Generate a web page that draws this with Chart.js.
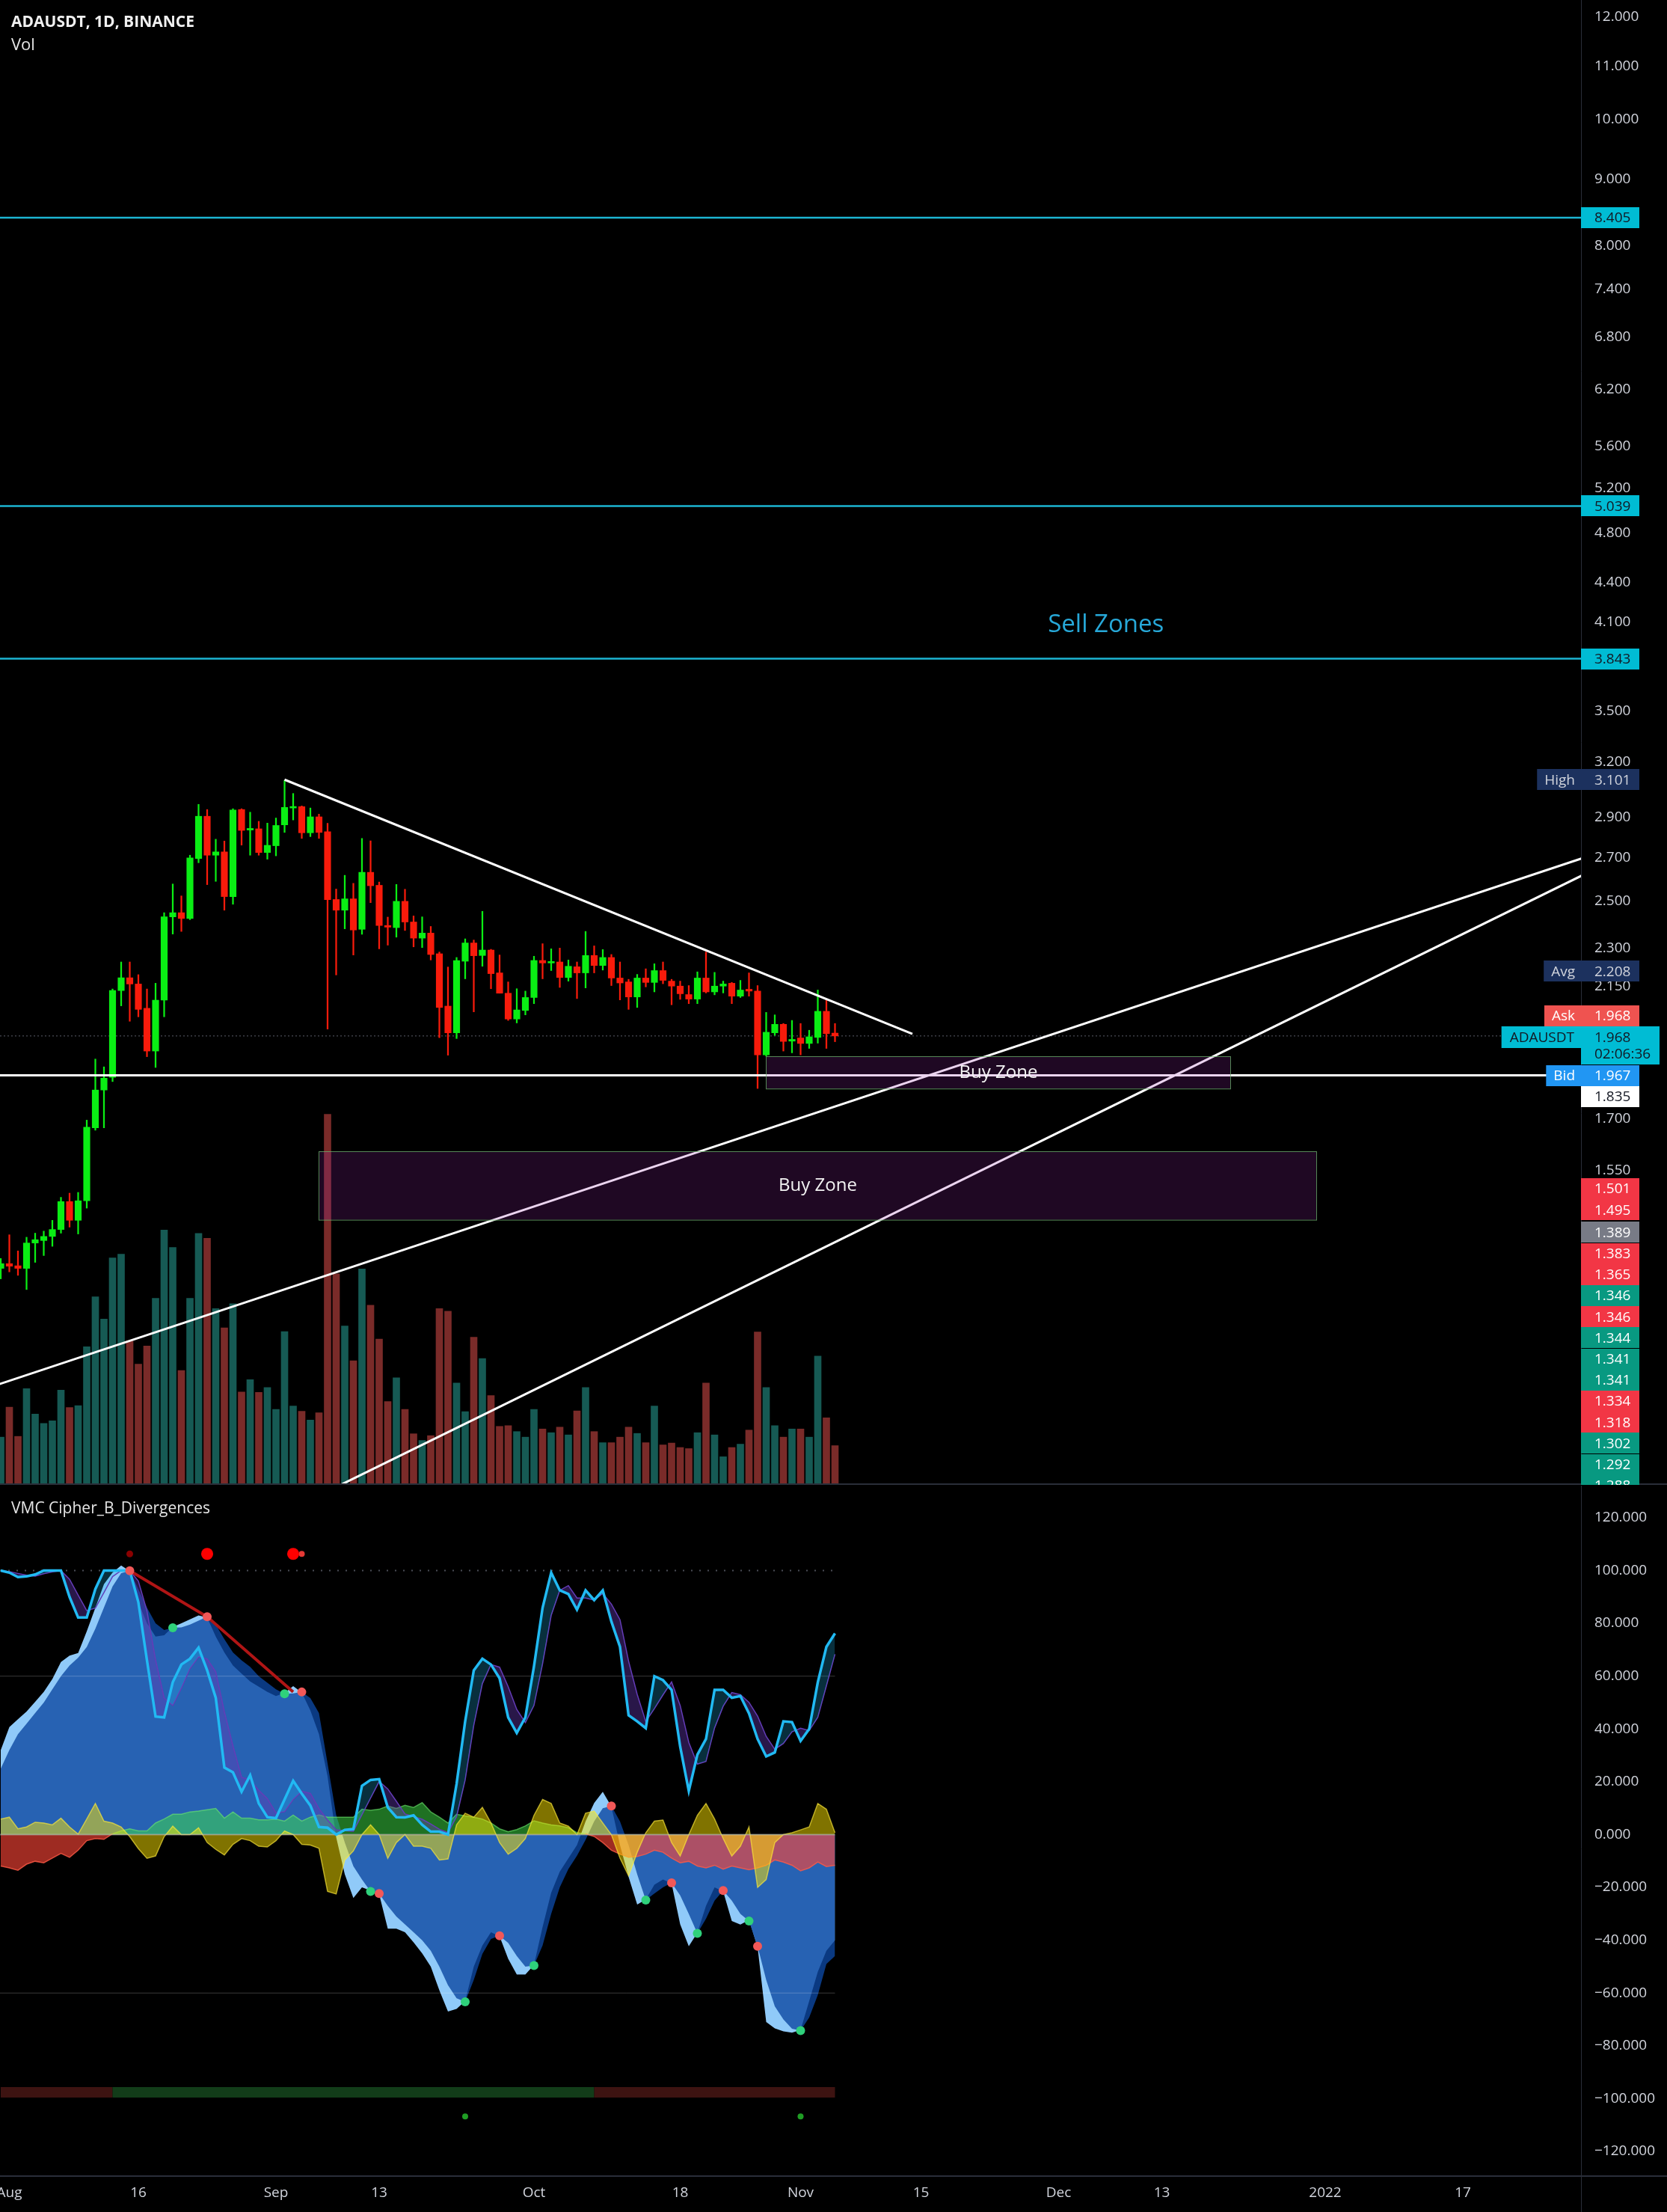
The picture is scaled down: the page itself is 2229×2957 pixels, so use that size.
<!DOCTYPE html>
<html>
<head>
<meta charset="utf-8">
<script src="https://cdn.jsdelivr.net/npm/chart.js@4.4.1/dist/chart.umd.min.js"></script>
<style>
  html, body { margin:0; padding:0; background:#000; }
  body { width:2229px; height:2957px; position:relative; overflow:hidden; }
  canvas { position:absolute; left:0; }
  #price { top:0; }
  #osc { top:1986px; }
  .lbl { position:absolute; left:15px; font-family:"Open Sans", sans-serif; line-height:1; white-space:nowrap; }
</style>
</head>
<body>
<canvas id="price" width="2229" height="1985"></canvas>
<canvas id="osc" width="2229" height="971"></canvas>
<div class="lbl" style="top:18px;font-size:21px;font-weight:700;color:#f0f0f0">ADAUSDT, 1D, BINANCE</div>
<div class="lbl" style="top:47px;font-size:22px;color:#e6e6e6">Vol</div>
<div class="lbl" style="top:2005px;font-size:21px;color:#e6e6e6">VMC Cipher_B_Divergences</div>
<script>
// ---------------- DATA (daily candles, Jul 31 2021 .. Nov 5 2021) ----------------
const open = [1.303,1.314,1.309,1.303,1.363,1.369,1.379,1.396,1.467,1.419,1.469,1.672,1.788,1.829,2.133,2.182,2.158,2.067,1.916,2.097,2.431,2.449,2.424,2.696,2.906,2.712,2.728,2.520,2.941,2.836,2.842,2.725,2.758,2.862,2.949,2.956,2.822,2.903,2.827,2.507,2.460,2.510,2.378,2.631,2.571,2.394,2.385,2.499,2.409,2.341,2.362,2.277,2.075,1.979,2.247,2.321,2.270,2.292,2.201,2.123,2.028,2.059,2.107,2.250,2.240,2.244,2.183,2.225,2.201,2.270,2.230,2.262,2.181,2.166,2.109,2.181,2.164,2.210,2.169,2.150,2.118,2.101,2.181,2.128,2.150,2.161,2.112,2.138,2.131,1.903,1.979,2.009,1.950,1.961,1.942,1.963,2.056,1.978];
const high = [1.326,1.383,1.344,1.377,1.387,1.392,1.419,1.478,1.489,1.491,1.695,1.889,1.863,2.139,2.244,2.244,2.194,2.139,2.161,2.449,2.577,2.523,2.712,2.968,2.941,2.790,2.781,2.945,2.945,2.927,2.880,2.871,2.897,3.097,3.026,2.960,2.949,2.917,2.870,2.554,2.617,2.580,2.794,2.782,2.586,2.430,2.575,2.553,2.435,2.431,2.390,2.284,2.224,2.262,2.338,2.333,2.455,2.295,2.272,2.166,2.140,2.131,2.267,2.318,2.297,2.300,2.252,2.244,2.369,2.309,2.294,2.274,2.244,2.176,2.195,2.217,2.237,2.244,2.176,2.169,2.152,2.205,2.284,2.203,2.169,2.164,2.172,2.201,2.152,2.052,2.043,2.012,2.023,2.012,1.988,2.135,2.100,2.012];
const low = [1.279,1.295,1.287,1.255,1.317,1.333,1.355,1.387,1.402,1.385,1.450,1.665,1.672,1.815,2.076,2.020,2.036,1.897,1.861,2.036,2.358,2.369,2.419,2.676,2.574,2.589,2.460,2.486,2.761,2.712,2.712,2.693,2.709,2.824,2.887,2.794,2.803,2.794,1.992,2.193,2.380,2.272,2.357,2.493,2.297,2.312,2.345,2.373,2.305,2.302,2.252,1.962,1.902,1.959,2.178,2.054,2.227,2.140,2.123,2.023,2.014,2.043,2.084,2.178,2.210,2.145,2.169,2.103,2.143,2.201,2.212,2.152,2.098,2.063,2.070,2.147,2.128,2.159,2.080,2.100,2.084,2.084,2.124,2.117,2.124,2.084,2.107,2.112,1.793,1.899,1.970,1.916,1.910,1.903,1.925,1.943,1.925,1.948];
const close = [1.314,1.308,1.303,1.363,1.371,1.379,1.396,1.467,1.419,1.469,1.674,1.788,1.826,2.133,2.182,2.158,2.063,1.916,2.097,2.431,2.449,2.424,2.699,2.906,2.712,2.728,2.520,2.938,2.834,2.844,2.725,2.760,2.859,2.952,2.956,2.822,2.903,2.824,2.506,2.460,2.510,2.375,2.631,2.569,2.394,2.387,2.499,2.409,2.341,2.362,2.274,2.070,1.979,2.250,2.321,2.269,2.292,2.198,2.123,2.028,2.061,2.107,2.250,2.240,2.244,2.183,2.227,2.201,2.270,2.230,2.262,2.181,2.162,2.109,2.181,2.164,2.210,2.172,2.150,2.121,2.101,2.181,2.128,2.150,2.158,2.112,2.135,2.131,1.903,1.981,2.009,1.949,1.956,1.942,1.965,2.056,1.976,1.968];
// volume, millions ADA
const volume = [129,210,131,260,191,166,173,256,209,214,373,508,448,613,623,388,326,375,504,688,641,309,504,679,666,476,424,489,251,284,250,263,204,414,213,199,175,195,1001,570,429,335,583,485,394,225,289,204,138,120,133,476,469,275,198,399,341,241,158,160,144,129,204,151,141,156,135,200,263,144,114,114,129,156,139,114,213,108,113,101,98,141,275,135,76,101,110,148,413,263,160,129,151,151,129,348,181,106];

// ---------------- VMC Cipher B values ----------------
const wt1 = [32,40.7,43.7,46.6,50.3,54,58.9,65.4,67.8,68.8,77,85.9,94.8,99.2,101.9,99.8,88,80,75,75.5,78.6,80,81.5,83,82.2,75,69,64,61,58,56,54,52.5,53.6,56.2,53.8,47,38,22,-1,-15,-24,-20,-21.2,-22.6,-35.6,-35.6,-37,-40.8,-45,-50,-59,-67,-66,-63,-50,-42,-37,-38.5,-47,-53,-53,-49.4,-35,-22,-14,-9,-4,5,12,16.2,10.6,-4,-16,-26.5,-24.6,-19,-17,-18.5,-34,-42.3,-37.2,-27,-20,-21.5,-32.7,-34.1,-32.4,-42.6,-71,-73.4,-74.5,-75,-74,-63,-52,-44,-40];
const wt2 = [25,32,38,42,46,50,55,60,64,67,71,78,86,94,99,99.9,93,86,80,77.5,78.3,78.5,79.5,81,82.5,79.5,74,69,66,63.5,60,57.5,55,53.3,53.5,54,51.7,46,27,7.4,-3,-12,-17,-21.5,-22.3,-27,-31,-34,-37,-40,-44,-50,-57,-62,-63.3,-55,-45.2,-39.5,-38.3,-41,-46,-50,-49.6,-42,-30,-20,-13,-8,-2,5,10,10.8,5,-4,-15,-24.8,-22.3,-20,-18.3,-23,-30,-37.4,-31.9,-25,-21.2,-25,-30,-32.7,-42.3,-55,-65,-70,-73.5,-74.2,-69.3,-60.8,-49,-46];
const vwap = [5.9,6.6,2.2,2.9,4.7,4.4,3.7,6.2,2.9,0.2,5.9,11.8,5.1,4.4,2.9,-0.8,-5.3,-9,-8.1,-0.8,3.2,0,0,2.6,-3,-5.6,-7.7,-3.7,-1.5,-2.3,-4.4,-4.7,-2.3,1.4,0,-3.7,-4,-5.2,-21.5,-22.5,-9.6,-6.2,0,3.7,0,-9,-3,0,-4.4,-4.4,-5.2,-9.6,-9.2,3.7,8.1,6.6,10.3,4.4,-3,-7.4,-5.2,-1.5,7.3,13.3,11.8,4.4,3.2,0,8.1,8.9,4.4,0,-8.9,-15.6,-6.7,0.7,5.1,5.5,-3,-8.1,0,7.3,11.8,5.9,-1.5,-8.1,-4.4,2.9,-20,-17,-3,0,0.7,1.8,2.9,11.8,9.6,0.7];
const mfi = [-11.9,-12.6,-13.5,-11.2,-10.1,-10.7,-8.9,-7.1,-8.6,-5.9,-2.3,-1.5,-1.8,0.3,1.4,2.2,1.4,1.4,4.4,5.9,7.7,7.7,8.6,8.9,9.4,9.9,6.2,8.6,6.2,6.2,5.6,5.6,5.9,5.1,7.4,5.1,6.6,7.4,6.6,6.6,6.6,6.6,9.6,9.2,9.6,10.8,9.9,11.1,10.3,12.1,8.6,6.6,4.4,7.7,7.1,6.6,5.9,4.4,2.2,1.1,1.9,3.3,5.2,4.4,3.7,3.3,2.6,0.7,0.3,-0.7,-3,-5.9,-7.4,-8.6,-8.3,-7.4,-5.9,-6.7,-8.9,-10.7,-10.1,-11.9,-12.6,-11.6,-13.1,-11.9,-12.6,-13.3,-12.6,-11.6,-9.6,-10.4,-11.6,-13.7,-12.6,-10.4,-12.1,-11.6];
const stochK = [100,99.2,97.5,97.8,98.5,100,100,100,90,82.2,82.2,93,100,100,100,100,88,66,44.7,44.4,57.7,64.4,66.6,70.8,62.2,51.8,25.4,23.6,16.2,22.5,11.8,6.6,6.2,13.3,20.4,15.5,11,2.9,2.6,0,1.8,2.1,18.5,20.7,21,10.3,6.6,6.5,7.3,3.7,1.1,1.1,0,19.2,42.9,62.2,66.6,64.4,59.2,44.4,38.5,44.4,63.7,85.9,99.2,92.5,91.1,85.2,92.5,88.8,92.5,80.7,71.1,45.2,42.9,40.3,60,58.5,54.8,33.3,16.5,30.3,36.2,54.8,54.8,51.8,52.5,45.9,36.2,29.6,31.1,42.9,42.6,35.5,40,57.7,71.1,76.2];
const stochD = [100,99.6,98.9,98.2,97.9,98.8,99.5,100,96.7,90.7,84.8,85.8,91.7,97.7,100,100,96,84.7,66.2,51.7,48.9,55.5,62.9,67.3,66.5,61.6,46.5,33.6,21.7,20.8,16.8,13.6,8.2,8.7,13.3,16.4,15.6,9.8,5.5,1.8,1.5,1.3,7.5,13.8,20.1,17.3,12.6,7.8,6.8,5.8,4,2,0.7,6.8,20.7,41.4,57.2,64.4,63.4,56,47.4,42.4,48.9,64.7,83,92.5,94.3,89.6,89.6,88.8,91.3,87.3,81.4,65.7,53.1,42.8,47.7,52.9,57.8,48.9,34.9,26.7,27.7,40.4,48.6,53.8,53,50.1,44.9,37.2,32.3,34.5,38.9,40.3,39.4,44.4,56.3,68.3];
const bullCrossDays = [19,32,42,53,61,74,80,86,92];
const bullCrossVals = [78.3,53.3,-21.5,-63.3,-49.6,-24.8,-37.4,-32.7,-74.2];
const bearCrossDays = [14,23,34,43,57,70,77,83,87];
const bearCrossVals = [99.9,82.5,54.0,-22.3,-38.3,10.8,-18.3,-21.2,-42.3];
const divLineDays = [14,23,33];
const divLineVals = [99.9,82.5,54];
const sellCircleDays = [23,33];
const weakSellDays = [14];
const tailSellDays = [34];
const SELL_CIRCLE_LEVEL = 106.3;
const buyDotDays = [53,92];
const BUY_DOT_LEVEL = -106.7;
const MFI_BAND_LEVEL = -97.6;

// ---------------- Drawings / levels ----------------
const sellZoneLevels = [8.405, 5.039, 3.843];
const supportLevel = 1.835;
const lastPrice = 1.968;
const trendDownDays = [32, 105],  trendDownPrices = [3.101, 1.975];
const trendUpADays  = [-2, 183],  trendUpAPrices  = [1.0566, 2.699];
const trendUpBDays  = [38, 183],  trendUpBPrices  = [0.884, 2.619];
const zoneStartDays = [88, 36], zoneEndDays = [142, 152];
const zoneTops = [1.8975, 1.6037], zoneBottoms = [1.7917, 1.4201];
const zoneLabels = ['Buy Zone', 'Buy Zone'];
const sellText = 'Sell Zones', sellTextDay = 127.5, sellTextPrice = 4.08;
const statNames = ['High', 'Avg'], statValues = [3.101, 2.208];
const symbol = 'ADAUSDT', countdown = '02:06:36';
const askValue = 1.968, bidValue = 1.967;
const bookLevels = [1.501,1.495,1.389,1.383,1.365,1.346,1.346,1.344,1.341,1.341,1.334,1.318,1.302,1.292,1.288];
const bookSide   = ['s','s','n','s','s','b','s','b','b','b','s','s','b','b','b'];

// ---------------- Axes ----------------
const priceTicks = [12,11,10,9,8,7.4,6.8,6.2,5.6,5.2,4.8,4.4,4.1,3.5,3.2,2.9,2.7,2.5,2.3,2.15,1.7,1.55];
const oscTicks = [-120,-100,-80,-60,-40,-20,0,20,40,60,80,100,120];
const xTickDays = [0,15,31,43,61,78,92,106,122,134,153,169];
const xTickLabels = ['Aug','16','Sep','13','Oct','18','Nov','15','Dec','13','2022','17'];

const X_MIN = -1.087, X_MAX = 182.74;
const P_MIN = 0.8874, P_MAX = 12.366;
const V_MAX = 4010;
const O_MIN = -129.04, O_MAX = 132.15;
const AXIS_W = 115;

// ---------------- helpers ----------------
Chart.defaults.font.family = '"Open Sans", sans-serif';
Chart.defaults.color = '#d1d4dc';
const dayIdx = open.map((_, i) => i - 1);
const pts = arr => arr.map((v, i) => ({x: dayIdx[i], y: v}));
const xy = (xs, ys) => xs.map((x, i) => ({x, y: Array.isArray(ys) ? ys[i] : ys}));
const up = close.map((c, i) => c >= open[i]);
const noPad = s => { s.paddingLeft = 0; s.paddingRight = 0; s.paddingTop = 0; s.paddingBottom = 0; };
const GREEN = '#0aee14', RED = '#f81b0b';
const TAG_H = 28, TAG_FONT = '19px "Open Sans"';
const line = (data, color, width, order, extra) => Object.assign({type:'line', data, borderColor:color, borderWidth:width, pointRadius:0, fill:false, tension:0, order}, extra || {});

function tagRect(ctx, l, r, yc, h, bg) { ctx.fillStyle = bg; ctx.fillRect(l, Math.round(yc - h / 2), r - l, h); }
function tagText(ctx, s, x, y, color) { ctx.font = TAG_FONT; ctx.fillStyle = color; ctx.textAlign = 'left'; ctx.textBaseline = 'middle'; ctx.fillText(s, x, y + 1); }

// ---------------- price chart ----------------
const zonesPlugin = {
  id: 'zones',
  afterDatasetsDraw(chart) {
    const {ctx, chartArea: a, scales: {x, y}} = chart;
    ctx.save();
    ctx.beginPath(); ctx.rect(a.left, a.top, a.width, a.height); ctx.clip();
    zoneStartDays.forEach((d0, i) => {
      const x0 = x.getPixelForValue(d0), x1 = x.getPixelForValue(zoneEndDays[i]);
      const y0 = y.getPixelForValue(zoneTops[i]), y1 = y.getPixelForValue(zoneBottoms[i]);
      ctx.fillStyle = 'rgba(156,39,176,0.2)';
      ctx.fillRect(x0, y0, x1 - x0, y1 - y0);
      ctx.strokeStyle = 'rgba(110,180,110,0.75)'; ctx.lineWidth = 1;
      ctx.strokeRect(Math.round(x0) + 0.5, Math.round(y0) + 0.5, x1 - x0, y1 - y0);
      ctx.font = '24px "Open Sans"'; ctx.fillStyle = '#f2f2f2'; ctx.textAlign = 'center'; ctx.textBaseline = 'middle';
      ctx.fillText(zoneLabels[i], (x0 + x1) / 2, (y0 + y1) / 2);
    });
    ctx.font = '33px "Open Sans"'; ctx.fillStyle = '#27a8d8'; ctx.textAlign = 'center'; ctx.textBaseline = 'middle';
    ctx.fillText(sellText, x.getPixelForValue(sellTextDay), y.getPixelForValue(sellTextPrice));
    ctx.restore();
  }
};

const priceLabelsPlugin = {
  id: 'priceLabels',
  afterDraw(chart) {
    const {ctx, chartArea: a, scales: {y}} = chart;
    const AX = a.right, R = AX + 78, TX = AX + 18;
    ctx.save();
    ctx.strokeStyle = '#2a2e39'; ctx.lineWidth = 1;
    ctx.beginPath(); ctx.moveTo(AX + 0.5, 0); ctx.lineTo(AX + 0.5, chart.height); ctx.stroke();
    ctx.lineWidth = 2;
    ctx.beginPath(); ctx.moveTo(0, chart.height - 1); ctx.lineTo(chart.width, chart.height - 1); ctx.stroke();
    ctx.font = TAG_FONT;
    sellZoneLevels.forEach(v => {
      const yc = y.getPixelForValue(v);
      tagRect(ctx, AX, R, yc, TAG_H, '#00bcd4');
      tagText(ctx, v.toFixed(3), TX, yc, '#131722');
    });
    statNames.forEach((n, i) => {
      const yc = y.getPixelForValue(statValues[i]);
      ctx.font = TAG_FONT;
      const L = AX - ctx.measureText(n).width - 18;
      tagRect(ctx, L, R, yc, TAG_H, '#1c315e');
      tagText(ctx, n, L + 10, yc, '#d1d4dc');
      tagText(ctx, statValues[i].toFixed(3), TX, yc, '#d1d4dc');
    });
    const top = Math.round(y.getPixelForValue(lastPrice)) - 13;
    ctx.font = TAG_FONT;
    const Ls = AX - ctx.measureText(symbol).width - 20;
    ctx.fillStyle = '#00bcd4';
    ctx.fillRect(Ls, top, AX - Ls, 29);
    ctx.fillRect(AX, top, 105, 51);
    tagText(ctx, symbol, Ls + 11, top + 14.5, '#131722');
    tagText(ctx, lastPrice.toFixed(3), TX, top + 14.5, '#131722');
    tagText(ctx, countdown, TX, top + 36.5, '#131722');
    const askC = Math.min(y.getPixelForValue(askValue), top - TAG_H / 2);
    ctx.font = TAG_FONT;
    let L = AX - ctx.measureText('Ask').width - 18;
    tagRect(ctx, L, R, askC, TAG_H, '#ef5350');
    tagText(ctx, 'Ask', L + 10, askC, '#ffffff');
    tagText(ctx, askValue.toFixed(3), TX, askC, '#ffffff');
    const bidC = Math.max(y.getPixelForValue(bidValue), top + 52 + TAG_H / 2);
    ctx.font = TAG_FONT;
    L = AX - ctx.measureText('Bid').width - 18;
    tagRect(ctx, L, R, bidC, TAG_H, '#2196f3');
    tagText(ctx, 'Bid', L + 10, bidC, '#ffffff');
    tagText(ctx, bidValue.toFixed(3), TX, bidC, '#ffffff');
    const supC = Math.max(y.getPixelForValue(supportLevel), bidC + TAG_H);
    tagRect(ctx, AX, R, supC, TAG_H, '#ffffff');
    tagText(ctx, supportLevel.toFixed(3), TX, supC, '#131722');
    let prev = -1e9;
    bookLevels.forEach((v, i) => {
      const yc = Math.max(y.getPixelForValue(v), prev + TAG_H + 0.2);
      prev = yc;
      const bg = bookSide[i] === 's' ? '#f23645' : (bookSide[i] === 'b' ? '#089981' : '#787b86');
      tagRect(ctx, AX, R, yc, TAG_H, bg);
      tagText(ctx, v.toFixed(3), TX, yc, '#ffffff');
    });
    ctx.restore();
  }
};

const priceDatasets = [
  line(xy(trendDownDays, trendDownPrices), '#ffffff', 3, 40),
  line(xy(trendUpADays, trendUpAPrices), '#ffffff', 3, 40),
  line(xy(trendUpBDays, trendUpBPrices), '#ffffff', 3, 40),
  line([{x: X_MIN, y: supportLevel}, {x: X_MAX, y: supportLevel}], '#ffffff', 3, 40),
  ...sellZoneLevels.map(v => line([{x: X_MIN, y: v}, {x: X_MAX, y: v}], '#1cb5d2', 2.5, 50)),
  { type: 'bar', data: dayIdx.map((d, i) => ({x: d, y: [open[i], close[i]]})), backgroundColor: up.map(u => u ? GREEN : RED),
    barThickness: 8.5, grouped: false, minBarLength: 2, borderWidth: 0, order: 80 },
  { type: 'bar', data: dayIdx.map((d, i) => ({x: d, y: [low[i], high[i]]})), backgroundColor: up.map(u => u ? GREEN : RED),
    barThickness: 1.6, grouped: false, borderWidth: 0, order: 81 },
  line([{x: X_MIN, y: lastPrice}, {x: X_MAX, y: lastPrice}], '#5d606b', 1, 90, {borderDash: [2, 3]}),
  { type: 'bar', data: pts(volume), yAxisID: 'yv', backgroundColor: up.map(u => u ? '#165a54' : '#7a2b29'),
    barThickness: 9, grouped: false, borderWidth: 0, order: 100 }
];

new Chart(document.getElementById('price'), {
  type: 'line',
  data: { datasets: priceDatasets },
  options: {
    responsive: false, animation: false, devicePixelRatio: 1,
    layout: { padding: 0, autoPadding: false },
    plugins: { legend: { display: false }, tooltip: { enabled: false } },
    scales: {
      x: { type: 'linear', min: X_MIN, max: X_MAX, display: false, offset: false },
      y: {
        type: 'logarithmic', position: 'right', min: P_MIN, max: P_MAX,
        grid: { display: false, drawTicks: false }, border: { display: false },
        afterBuildTicks: s => { s.ticks = priceTicks.map(v => ({value: v})); },
        afterFit: s => { s.width = AXIS_W; noPad(s); },
        ticks: { callback: v => Number(v).toFixed(3), color: '#d1d4dc', font: { size: 19 }, padding: 18, autoSkip: false }
      },
      yv: { type: 'linear', display: false, min: 0, max: V_MAX }
    }
  },
  plugins: [zonesPlugin, priceLabelsPlugin]
});

// ---------------- oscillator chart ----------------
const oscDatasets = [];
const add = d => { oscDatasets.push(d); return oscDatasets.length - 1; };
add(line(pts(mfi.map(() => MFI_BAND_LEVEL)), '#123c19', 14, 100, {
  borderCapStyle: 'butt',
  segment: { borderColor: c => mfi[c.p0DataIndex] >= 0 ? '#123c19' : '#3d1311' } }));
add({ type: 'line', data: pts(wt1), borderWidth: 0, borderColor: 'rgba(0,0,0,0)', backgroundColor: '#90caf9', fill: 'origin', pointRadius: 0, tension: 0, order: 80 });
add({ type: 'line', data: pts(wt2), borderWidth: 0, borderColor: 'rgba(0,0,0,0)', backgroundColor: 'rgba(13,71,161,0.8)', fill: 'origin', pointRadius: 0, tension: 0, order: 70 });
add({ type: 'line', data: pts(mfi), borderWidth: 1.5, pointRadius: 0, tension: 0, order: 60,
      fill: { target: 'origin', above: 'rgba(62,225,69,0.5)', below: 'rgba(255,70,55,0.62)' },
      segment: { borderColor: c => (c.p0.parsed.y + c.p1.parsed.y) >= 0 ? 'rgba(110,235,110,0.6)' : 'rgba(255,90,70,0.8)' } });
add({ type: 'line', data: pts(vwap), borderWidth: 1.5, borderColor: 'rgba(255,235,59,0.65)', backgroundColor: 'rgba(255,229,0,0.5)', fill: 'origin', pointRadius: 0, tension: 0, order: 50 });
add(line([{x: X_MIN, y: 0}, {x: 96, y: 0}], 'rgba(200,200,200,0.45)', 2, 45));
add(line([{x: X_MIN, y: 60}, {x: 96, y: 60}], 'rgba(255,255,255,0.22)', 1, 44));
add(line([{x: X_MIN, y: -60}, {x: 96, y: -60}], 'rgba(255,255,255,0.22)', 1, 44));
add(line([{x: X_MIN, y: 100}, {x: 96, y: 100}], '#4a4d56', 2, 44, {borderDash: [2, 9]}));
const idxD = add(line(pts(stochD), '#673ab7', 1.5, 41));
add(line(pts(stochK), '#21baf3', 3.5, 40, { fill: { target: idxD, above: 'rgba(33,186,243,0.25)', below: 'rgba(103,58,183,0.4)' } }));
add(line(xy(divLineDays, divLineVals), '#b01515', 4, 30));
add({ type: 'line', data: xy(bullCrossDays, bullCrossVals), showLine: false, pointRadius: 6, pointBackgroundColor: '#2fd17b', pointBorderWidth: 0, order: 20 });
add({ type: 'line', data: xy(bearCrossDays, bearCrossVals), showLine: false, pointRadius: 6, pointBackgroundColor: '#f25858', pointBorderWidth: 0, order: 20 });
add({ type: 'line', data: xy(sellCircleDays, SELL_CIRCLE_LEVEL), showLine: false, pointRadius: 8, pointBackgroundColor: '#ff0000', pointBorderWidth: 0, order: 10 });
add({ type: 'line', data: xy(tailSellDays, SELL_CIRCLE_LEVEL), showLine: false, pointRadius: 4, pointBackgroundColor: '#e53935', pointBorderWidth: 0, order: 11 });
add({ type: 'line', data: xy(weakSellDays, SELL_CIRCLE_LEVEL), showLine: false, pointRadius: 4.5, pointBackgroundColor: '#8a0000', pointBorderWidth: 0, order: 10 });
add({ type: 'line', data: xy(buyDotDays, BUY_DOT_LEVEL), showLine: false, pointRadius: 4, pointBackgroundColor: '#1f9d24', pointBorderWidth: 0, order: 10 });

const oscFramePlugin = {
  id: 'oscFrame',
  afterDraw(chart) {
    const {ctx, chartArea: a} = chart;
    ctx.save();
    ctx.strokeStyle = '#2a2e39'; ctx.lineWidth = 1;
    ctx.beginPath(); ctx.moveTo(a.right + 0.5, 0); ctx.lineTo(a.right + 0.5, chart.height); ctx.stroke();
    ctx.lineWidth = 2;
    ctx.beginPath(); ctx.moveTo(0, a.bottom + 1); ctx.lineTo(chart.width, a.bottom + 1); ctx.stroke();
    ctx.restore();
  }
};

new Chart(document.getElementById('osc'), {
  type: 'line',
  data: { datasets: oscDatasets },
  options: {
    responsive: false, animation: false, devicePixelRatio: 1,
    layout: { padding: 0, autoPadding: false },
    plugins: { legend: { display: false }, tooltip: { enabled: false } },
    scales: {
      x: {
        type: 'linear', min: X_MIN, max: X_MAX, offset: false,
        grid: { display: false, drawTicks: false }, border: { display: false },
        afterBuildTicks: s => { s.ticks = xTickDays.map(v => ({value: v})); },
        afterFit: s => { s.height = 49; noPad(s); },
        ticks: { callback: (v, i) => xTickLabels[i], autoSkip: false, maxRotation: 0, minRotation: 0, padding: 12, font: { size: 19 }, color: '#d1d4dc' }
      },
      y: {
        type: 'linear', position: 'right', min: O_MIN, max: O_MAX,
        grid: { display: false, drawTicks: false }, border: { display: false },
        afterBuildTicks: s => { s.ticks = oscTicks.map(v => ({value: v})); },
        afterFit: s => { s.width = AXIS_W; noPad(s); },
        ticks: { callback: v => (v < 0 ? '\u2212' : '') + Math.abs(v).toFixed(3), color: '#d1d4dc', font: { size: 19 }, padding: 18, autoSkip: false }
      }
    }
  },
  plugins: [oscFramePlugin]
});
</script>
</body>
</html>
